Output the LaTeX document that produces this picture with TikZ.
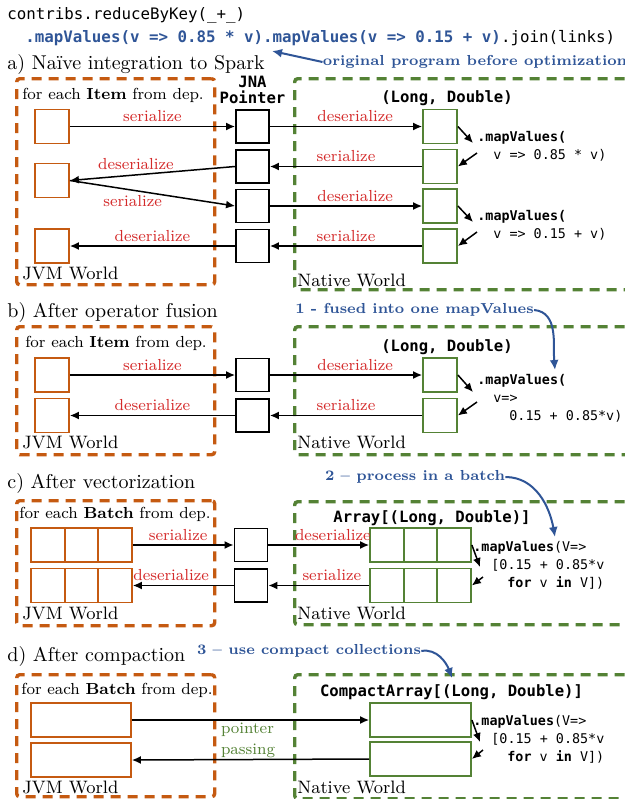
\documentclass[tikz,border=0pt]{standalone}
\usepackage{fontspec}
\usepackage{tikz}
\usetikzlibrary{positioning,arrows.meta}
\newfontfamily\codefont{DejaVu Sans Mono}
\definecolor{jvmorange}{HTML}{C55A11}
\definecolor{natgreen}{HTML}{548235}
\definecolor{noteblue}{HTML}{2F5597}
\definecolor{labelred}{HTML}{D42A2A}

\begin{document}
\begin{tikzpicture}[
  x=0.5pt, y=-0.5pt,
  jvmworld/.style={draw=jvmorange, line width=1.7pt, dash pattern=on 5pt off 3.5pt, rounded corners=1.5pt, anchor=north west, inner sep=0pt, minimum width=99pt},
  natworld/.style={draw=natgreen, line width=1.7pt, dash pattern=on 5pt off 3.5pt, rounded corners=1.5pt, anchor=north west, inner sep=0pt, minimum width=183.5pt},
  jvmbox/.style={draw=jvmorange, line width=0.9pt, minimum width=17pt, minimum height=17pt, inner sep=0pt},
  natbox/.style={draw=natgreen, line width=0.9pt, minimum width=17pt, minimum height=17pt, inner sep=0pt},
  ptrbox/.style={draw, line width=0.95pt, minimum width=16.5pt, minimum height=16.5pt, inner sep=0pt},
  flow/.style={-{Latex[length=4.5pt,width=4pt]}, line width=0.75pt},
  hint/.style={-{Latex[length=5pt,width=4.5pt]}, draw=noteblue, line width=1pt},
  lbl/.style={font=\fontsize{8}{9}\selectfont, text=labelred, inner sep=2pt},
  heading/.style={font=\fontsize{10}{12}\selectfont, anchor=west, inner sep=0pt},
  worldlbl/.style={font=\fontsize{9}{10}\selectfont, anchor=west, inner sep=0pt},
  itemlbl/.style={font=\fontsize{8}{9}\selectfont, inner sep=0pt},
  hintlbl/.style={font=\fontsize{7.25}{9}\selectfont\bfseries, text=noteblue, inner sep=0pt},
  srccode/.style={font=\fontsize{7.9}{9}\selectfont\codefont, anchor=west, inner sep=0pt},
  mvtext/.style={font=\fontsize{6.7}{9}\selectfont\codefont, align=left, anchor=north west, inner sep=0pt},
  tuple/.style={font=\fontsize{7.8}{8}\selectfont\codefont\bfseries, inner sep=0pt, align=center}
]
\useasboundingbox (0,0) rectangle (625,799);
\clip (0,0) rectangle (625,799);

% source program
\node[srccode] (src1) at (7,15) {contribs.reduceByKey(\_+\_)};
\node[srccode] (src2) at (25,38) {\textcolor{noteblue}{\bfseries .mapValues(v => 0.85 * v).mapValues(v => 0.15 + v)}.join(links)};
\node[hintlbl] (origNote) at (475,62) {original program before optimization};
\coordinate (origTip) at (272,51);
\draw[hint] (origNote.west) -- (origTip);

% a) naive integration
\node[heading] (headA) at (7,64) {a) Naïve integration to Spark};
\node[jvmworld, minimum height=103pt] (jvmWorldA) at (15,77) {};
\node[natworld, minimum height=105.5pt] (natWorldA) at (293,77) {};
\node[itemlbl] (forA) at (113,95) {for each \textbf{Item} from dep.};
\node[worldlbl] (jvmLblA) at (22,273) {JVM World};
\node[worldlbl] (natLblA) at (297,280) {Native World};
\node[tuple] (jna) at (252.5,90) {JNA\\Pointer};
\node[tuple] (tupA) at (447,98) {(Long, Double)};
\foreach \n/\y in {1/126.5, 2/180.5, 3/246}
  \node[jvmbox] (jvmA\n) at (52,\y) {};
\foreach \n/\y in {1/126.5, 2/166.5, 3/206, 4/246} {
  \node[ptrbox] (ptrA\n) at (252.5,\y) {};
  \node[natbox] (natA\n) at (440,\y) {};
}
\draw[flow] (jvmA1) -- node[lbl, above] {serialize} (ptrA1);
\draw[flow] (ptrA1) -- node[lbl, above, pos=0.56] {deserialize} (natA1);
\draw[flow] (natA2) -- node[lbl, above] {serialize} (ptrA2);
\draw[flow] (ptrA2.west) -- node[lbl, above, pos=0.6] {deserialize} (jvmA2.east);
\draw[flow] (jvmA2.east) -- node[lbl, below, pos=0.38] {serialize} (ptrA3.west);
\draw[flow] (ptrA3) -- node[lbl, above, pos=0.56] {deserialize} (natA3);
\draw[flow] (natA4) -- node[lbl, above] {serialize} (ptrA4);
\draw[flow] (ptrA4) -- node[lbl, above] {deserialize} (jvmA3);
\coordinate (mvA1) at (473,143);
\coordinate (mvA2) at (477,153);
\coordinate (mvA3) at (473,222);
\coordinate (mvA4) at (477,232);
\draw[flow] (natA1.east) -- (mvA1);
\draw[flow] (mvA2) -- (natA2.east);
\draw[flow] (natA3.east) -- (mvA3);
\draw[flow] (mvA4) -- (natA4.east);
\node[mvtext] (mvTxtA1) at (477,131) {\textbf{.mapValues(}\\\hspace*{8pt}v => 0.85 * v)};
\node[mvtext] (mvTxtA2) at (477,210) {\textbf{.mapValues(}\\\hspace*{8pt}v => 0.15 + v)};

% b) after operator fusion
\node[heading] (headB) at (7,312) {b) After operator fusion};
\node[jvmworld, minimum height=64pt] (jvmWorldB) at (15,325) {};
\node[natworld, minimum height=64pt] (natWorldB) at (293,325) {};
\node[itemlbl] (forB) at (116,343) {for each \textbf{Item} from dep.};
\node[worldlbl] (jvmLblB) at (22,442) {JVM World};
\node[worldlbl] (natLblB) at (297,442) {Native World};
\node[tuple] (tupB) at (447,347) {(Long, Double)};
\foreach \n/\y in {1/375, 2/415.5} {
  \node[jvmbox] (jvmB\n) at (52,\y) {};
  \node[ptrbox] (ptrB\n) at (252.5,\y) {};
  \node[natbox] (natB\n) at (440,\y) {};
}
\draw[flow] (jvmB1) -- node[lbl, above] {serialize} (ptrB1);
\draw[flow] (ptrB1) -- node[lbl, above, pos=0.56] {deserialize} (natB1);
\draw[flow] (natB2) -- node[lbl, above] {serialize} (ptrB2);
\draw[flow] (ptrB2) -- node[lbl, above] {deserialize} (jvmB2);
\coordinate (mvB1) at (473,392);
\coordinate (mvB2) at (477,402);
\draw[flow] (natB1.east) -- (mvB1);
\draw[flow] (mvB2) -- (natB2.east);
\node[mvtext] (mvTxtB) at (477,374) {\textbf{.mapValues(}\\\hspace*{8pt}v=>\\\hspace*{16pt}0.15 + 0.85*v)};
\node[hintlbl] (fuseNote) at (414.5,310) {1 - fused into one mapValues};
\coordinate (fuseTip) at (555,370);
\draw[hint] (fuseNote.east) to[out=-5, in=95] (fuseTip);

% c) after vectorization
\node[heading] (headC) at (7,483) {c) After vectorization};
\node[jvmworld, minimum height=62.5pt] (jvmWorldC) at (15,499) {};
\node[natworld, minimum height=61.5pt] (natWorldC) at (293,500) {};
\node[itemlbl] (forC) at (115,514) {for each \textbf{Batch} from dep.};
\node[worldlbl] (jvmLblC) at (22,613) {JVM World};
\node[worldlbl] (natLblC) at (297,613) {Native World};
\node[tuple] (tupC) at (432,518) {Array[(Long, Double)]};
\foreach \n/\y in {1/545, 2/585.5} {
  \foreach \c in {0,1,2} {
    \node[jvmbox, minimum width=16.83pt] (jvmC\n\c) at ({47.8+33.67*\c},\y) {};
    \node[natbox, minimum width=16.83pt] (natC\n\c) at ({386.8+33.67*\c},\y) {};
  }
  \node[ptrbox] (ptrC\n) at (251,\y) {};
}
\draw[flow] (jvmC12.east) -- node[lbl, above, pos=0.45] {serialize} (ptrC1.west);
\draw[flow] (ptrC1.east) -- node[lbl, above, pos=0.64] {deserialize} (natC10.west);
\draw[flow] (natC20.west) -- node[lbl, above, pos=0.37] {serialize} (ptrC2.east);
\draw[flow] (ptrC2.west) -- node[lbl, above, pos=0.62] {deserialize} (jvmC22.east);
\coordinate (mvC1) at (480,567);
\coordinate (mvC2) at (483,577);
\draw[flow] (natC12.east) -- (mvC1);
\draw[flow] (mvC2) -- (natC22.east);
\node[mvtext] (mvTxtC) at (473,541) {\textbf{.mapValues}(V=>\\\hspace*{9pt}[0.15 + 0.85*v\\\hspace*{17pt}\textbf{for} v \textbf{in} V])};
\node[hintlbl] (batchNote) at (415,477) {2 – process in a batch};
\coordinate (batchTip) at (555,537);
\draw[hint] (batchNote.east) to[out=0, in=100] (batchTip);

% d) after compaction
\node[heading] (headD) at (7,656) {d) After compaction};
\node[jvmworld, minimum height=61pt] (jvmWorldD) at (15,673) {};
\node[natworld, minimum height=62pt] (natWorldD) at (293,673) {};
\node[itemlbl] (forD) at (117,690) {for each \textbf{Batch} from dep.};
\node[worldlbl] (jvmLblD) at (22,787) {JVM World};
\node[worldlbl] (natLblD) at (297,787) {Native World};
\node[tuple] (tupD) at (451.5,692) {CompactArray[(Long, Double)]};
\node[jvmbox, minimum width=50pt] (jvmD1) at (81,720) {};
\node[jvmbox, minimum width=50pt] (jvmD2) at (81,760) {};
\node[natbox, minimum width=50.5pt] (natD1) at (420.5,720) {};
\node[natbox, minimum width=50.5pt] (natD2) at (420.5,759) {};
\draw[flow] (jvmD1) -- (natD1);
\draw[flow] (natD2.west) -- (jvmD2.east);
\node[font=\fontsize{8}{10.5}\selectfont, text=natgreen, align=left, inner sep=0pt] (ptrPass) at (248,740) {pointer\\passing};
\coordinate (mvD1) at (480,742);
\coordinate (mvD2) at (483,750);
\draw[flow] (natD1.east) -- (mvD1);
\draw[flow] (mvD2) -- (natD2.east);
\node[mvtext] (mvTxtD) at (473,715) {\textbf{.mapValues}(V=>\\\hspace*{9pt}[0.15 + 0.85*v\\\hspace*{17pt}\textbf{for} v \textbf{in} V])};
\node[hintlbl] (compactNote) at (309,651) {3 – use compact collections};
\coordinate (compactTip) at (452,678);
\draw[hint] (compactNote.east) to[out=10, in=110] (compactTip);
\end{tikzpicture}
\end{document}
